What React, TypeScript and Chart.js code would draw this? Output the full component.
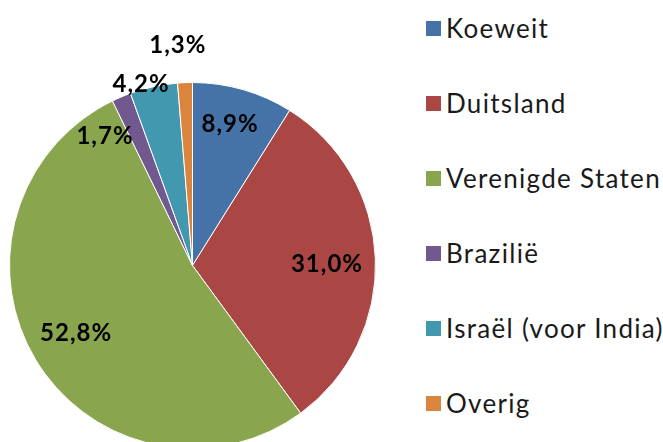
import React, { useEffect, useRef } from "react";
import { Chart, registerables } from "chart.js";

Chart.register(...registerables);

const countries = ["Koeweit", "Duitsland", "Verenigde Staten", "Brazilië", "Israël (voor India)", "Overig"];
const shares = [8.9, 31.0, 52.8, 1.7, 4.2, 1.3];
const shareLabels = ["8,9%", "31,0%", "52,8%", "1,7%", "4,2%", "1,3%"];
const colors = ["#4572A7", "#AA4643", "#89A54E", "#71588F", "#4198AF", "#DB843D"];

// label placement relative to each slice: [radius factor, angle offset in degrees]
const labelPlacement: [number, number][] = [
  [0.797, -1.3],
  [0.732, 1.7],
  [0.739, 0.9],
  [0.856, -11.3],
  [1.032, -3.7],
  [1.205, -1.6],
];

const pieLabelPlugin = {
  id: "pieLabels",
  afterDatasetsDraw(chart: any) {
    const meta = chart.getDatasetMeta(0);
    const ctx = chart.ctx;
    ctx.save();
    ctx.font = "bold 24px Lato";
    (ctx as any).letterSpacing = "1px";
    ctx.fillStyle = "#000000";
    ctx.textAlign = "center";
    ctx.textBaseline = "middle";
    meta.data.forEach((arc: any, i: number) => {
      const p = arc.getProps(["x", "y", "startAngle", "endAngle", "outerRadius"], true);
      const [f, off] = labelPlacement[i];
      const a = (p.startAngle + p.endAngle) / 2 + (off * Math.PI) / 180;
      const r = p.outerRadius * f;
      ctx.fillText(shareLabels[i], p.x + Math.cos(a) * r + 0.5, p.y + Math.sin(a) * r);
    });
    ctx.restore();
  },
};

export default function App() {
  const ref = useRef<HTMLCanvasElement | null>(null);
  useEffect(() => {
    if (!ref.current) return;
    const chart = new Chart(ref.current, {
      type: "pie",
      data: {
        labels: countries,
        datasets: [
          {
            data: shares,
            backgroundColor: colors,
            borderColor: "#ffffff",
            borderWidth: 1,
          },
        ],
      },
      options: {
        responsive: false,
        animation: false,
        events: [],
        layout: { padding: { left: 9, right: 24, top: 82, bottom: 11 } },
        plugins: {
          legend: { display: false },
          tooltip: { enabled: false },
        },
      },
      plugins: [pieLabelPlugin],
    });
    return () => chart.destroy();
  }, []);

  return (
    <div
      style={{
        position: "fixed",
        left: 0,
        top: 0,
        width: 663,
        height: 442,
        overflow: "hidden",
        background: "#ffffff",
      }}
    >
      <canvas ref={ref} width={400} height={460} style={{ position: "absolute", left: 0, top: 0, width: 400, height: 460 }} />
      {countries.map((c, i) => (
        <div
          key={c}
          style={{
            position: "absolute",
            left: 426,
            top: 21 + i * 75,
            height: 15,
            display: "flex",
            alignItems: "center",
            whiteSpace: "nowrap",
          }}
        >
          <span style={{ display: "inline-block", width: 15, height: 15, background: colors[i] }} />
          <span
            style={{
              marginLeft: 5,
              fontFamily: "Lato",
              fontSize: 26,
              letterSpacing: "1.3px",
              lineHeight: "15px",
              color: "#1a1a1a",
            }}
          >
            {c}
          </span>
        </div>
      ))}
    </div>
  );
}
